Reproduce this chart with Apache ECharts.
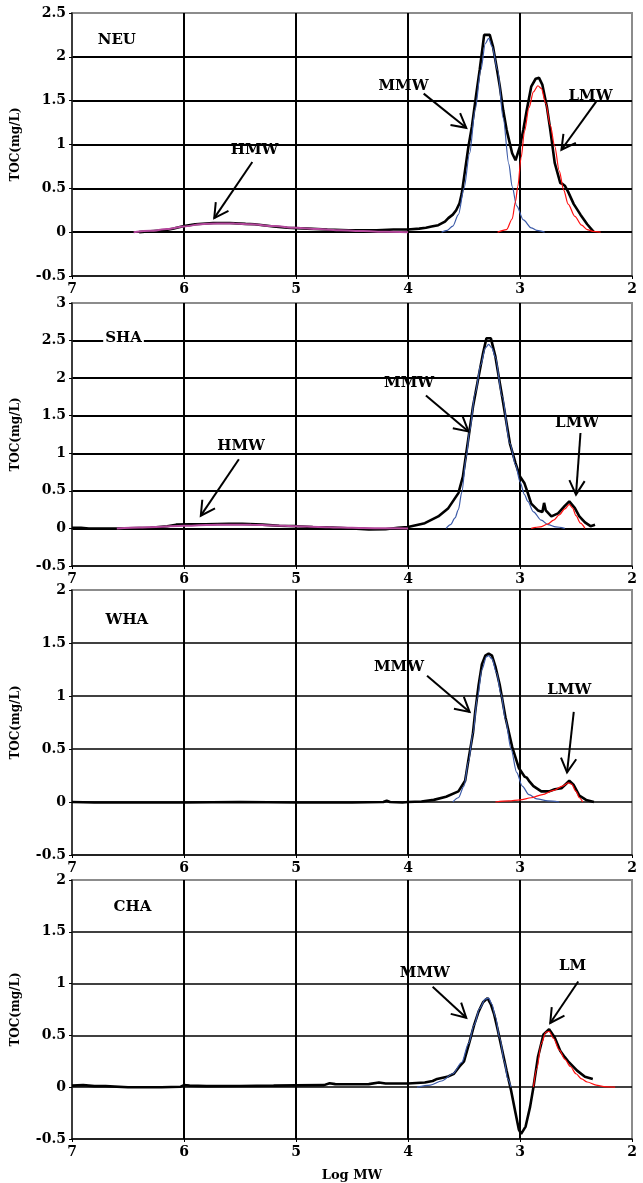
<!DOCTYPE html>
<html>
<head>
<meta charset="utf-8">
<script src="https://cdn.jsdelivr.net/npm/echarts@6/dist/echarts.min.js"></script>
<style>
html,body{margin:0;padding:0;background:#fff;}
#chart{width:643px;height:1183px;}
</style>
</head>
<body>
<div id="chart"></div>
<script>
// ---------- DATA (log MW, TOC mg/L) ----------
const X_TICKS = [7, 6, 5, 4, 3, 2];
const Y_MAX = [2.5, 3, 2, 2];
const PANEL_NAMES = ['NEU', 'SHA', 'WHA', 'CHA'];

const NEU_TOTAL = [[6.40,0.00],[6.30,0.01],[6.18,0.02],[6.10,0.04],[6.00,0.07],[5.90,0.09],[5.74,0.105],[5.59,0.105],[5.45,0.095],[5.37,0.09],[5.20,0.065],[5.08,0.05],[4.90,0.04],[4.72,0.03],[4.53,0.02],[4.28,0.02],[4.13,0.03],[4.00,0.03],[3.90,0.04],[3.84,0.05],[3.79,0.065],[3.73,0.08],[3.67,0.12],[3.64,0.16],[3.60,0.20],[3.57,0.25],[3.54,0.33],[3.52,0.44],[3.49,0.71],[3.46,0.98],[3.43,1.20],[3.39,1.58],[3.36,1.85],[3.33,2.15],[3.32,2.25],[3.27,2.25],[3.24,2.11],[3.21,1.89],[3.18,1.66],[3.15,1.39],[3.12,1.17],[3.07,0.90],[3.04,0.82],[3.00,0.98],[2.97,1.17],[2.94,1.39],[2.90,1.66],[2.86,1.75],[2.83,1.76],[2.80,1.68],[2.76,1.43],[2.73,1.17],[2.69,0.79],[2.64,0.56],[2.62,0.55],[2.60,0.53],[2.57,0.46],[2.52,0.32],[2.46,0.20],[2.40,0.09],[2.34,0.00]];
const NEU_MMW = [[3.70,0.00],[3.65,0.02],[3.60,0.07],[3.55,0.20],[3.50,0.50],[3.45,0.90],[3.40,1.40],[3.35,1.85],[3.31,2.15],[3.28,2.21],[3.25,2.12],[3.20,1.85],[3.15,1.30],[3.10,0.78],[3.07,0.52],[3.03,0.30],[2.97,0.14],[2.90,0.05],[2.85,0.02],[2.78,0.00]];
const NEU_LMW = [[3.20,0.00],[3.12,0.03],[3.07,0.15],[3.04,0.35],[3.02,0.52],[2.99,0.85],[2.96,1.15],[2.92,1.42],[2.88,1.60],[2.84,1.67],[2.81,1.64],[2.77,1.47],[2.73,1.22],[2.69,0.98],[2.65,0.70],[2.61,0.48],[2.57,0.32],[2.51,0.18],[2.45,0.08],[2.40,0.03],[2.35,0.01],[2.28,0.00]];
const NEU_HMW = [[6.45,0.00],[6.30,0.015],[6.15,0.035],[6.00,0.065],[5.85,0.09],[5.70,0.10],[5.55,0.098],[5.40,0.09],[5.20,0.07],[5.00,0.05],[4.80,0.035],[4.60,0.022],[4.40,0.012],[4.20,0.005],[4.00,0.00]];

const SHA_TOTAL = [[7.00,0.01],[6.92,0.01],[6.85,0.00],[6.60,0.00],[6.30,0.01],[6.15,0.03],[6.07,0.05],[5.95,0.055],[5.81,0.055],[5.60,0.06],[5.48,0.06],[5.30,0.05],[5.15,0.035],[5.00,0.03],[4.85,0.02],[4.72,0.015],[4.50,0.00],[4.35,-0.012],[4.20,-0.01],[4.09,0.01],[4.00,0.02],[3.85,0.07],[3.73,0.16],[3.64,0.27],[3.55,0.47],[3.51,0.69],[3.48,1.00],[3.45,1.31],[3.42,1.62],[3.37,2.02],[3.33,2.33],[3.30,2.53],[3.26,2.53],[3.22,2.29],[3.19,2.02],[3.16,1.76],[3.13,1.49],[3.09,1.13],[3.04,0.87],[3.00,0.69],[2.96,0.60],[2.93,0.47],[2.90,0.33],[2.84,0.24],[2.80,0.22],[2.785,0.34],[2.77,0.24],[2.72,0.16],[2.66,0.20],[2.60,0.30],[2.56,0.36],[2.51,0.27],[2.47,0.16],[2.42,0.08],[2.37,0.03],[2.35,0.04],[2.33,0.05]];
const SHA_MMW = [[3.66,0.00],[3.62,0.05],[3.58,0.14],[3.55,0.25],[3.52,0.48],[3.48,0.95],[3.45,1.30],[3.40,1.80],[3.35,2.18],[3.31,2.40],[3.28,2.45],[3.25,2.40],[3.22,2.28],[3.16,1.76],[3.09,1.13],[3.04,0.85],[3.00,0.62],[2.96,0.45],[2.93,0.36],[2.88,0.22],[2.81,0.11],[2.75,0.05],[2.68,0.02],[2.60,0.00]];
const SHA_LMW = [[2.90,0.00],[2.82,0.02],[2.75,0.06],[2.70,0.11],[2.65,0.18],[2.60,0.26],[2.56,0.32],[2.53,0.27],[2.50,0.17],[2.46,0.07],[2.42,0.00]];
const SHA_HMW = [[6.60,0.00],[6.40,0.012],[6.25,0.02],[6.00,0.035],[5.80,0.045],[5.60,0.05],[5.40,0.048],[5.20,0.04],[5.00,0.03],[4.80,0.02],[4.60,0.012],[4.40,0.006],[4.20,0.002],[4.00,0.00]];

const WHA_TOTAL = [[7.00,0.00],[6.80,-0.005],[6.50,-0.005],[6.00,-0.005],[5.50,0.00],[5.00,-0.005],[4.50,-0.005],[4.22,0.00],[4.19,0.012],[4.16,0.00],[4.05,-0.005],[4.00,0.00],[3.88,0.005],[3.77,0.02],[3.66,0.05],[3.55,0.10],[3.49,0.20],[3.46,0.40],[3.42,0.65],[3.40,0.85],[3.37,1.10],[3.34,1.30],[3.31,1.38],[3.28,1.40],[3.25,1.38],[3.22,1.28],[3.18,1.10],[3.13,0.80],[3.07,0.52],[3.01,0.32],[2.96,0.24],[2.94,0.23],[2.92,0.20],[2.88,0.15],[2.81,0.10],[2.74,0.10],[2.69,0.12],[2.63,0.13],[2.59,0.17],[2.56,0.20],[2.52,0.16],[2.47,0.06],[2.41,0.02],[2.34,0.00]];
const WHA_MMW = [[3.60,0.00],[3.55,0.04],[3.50,0.15],[3.46,0.38],[3.42,0.65],[3.38,0.98],[3.34,1.25],[3.30,1.37],[3.28,1.38],[3.25,1.35],[3.21,1.22],[3.17,1.02],[3.13,0.78],[3.08,0.50],[3.03,0.28],[2.98,0.15],[2.92,0.07],[2.85,0.03],[2.75,0.01],[2.65,0.00]];
const WHA_LMW = [[3.22,0.00],[3.10,0.01],[3.00,0.02],[2.90,0.04],[2.80,0.07],[2.70,0.11],[2.62,0.15],[2.57,0.18],[2.54,0.17],[2.50,0.10],[2.47,0.04],[2.44,0.00]];

const CHA_TOTAL = [[7.00,0.015],[6.90,0.02],[6.80,0.01],[6.70,0.01],[6.50,0.00],[6.20,0.00],[6.03,0.005],[6.00,0.02],[5.95,0.015],[5.80,0.01],[5.50,0.012],[5.20,0.015],[5.00,0.018],[4.75,0.02],[4.70,0.038],[4.65,0.03],[4.50,0.028],[4.35,0.03],[4.26,0.045],[4.20,0.035],[4.00,0.035],[3.85,0.045],[3.78,0.06],[3.74,0.08],[3.65,0.10],[3.59,0.13],[3.54,0.20],[3.50,0.25],[3.45,0.44],[3.41,0.60],[3.37,0.73],[3.33,0.82],[3.29,0.86],[3.26,0.80],[3.23,0.70],[3.20,0.56],[3.17,0.41],[3.12,0.16],[3.08,-0.03],[3.04,-0.25],[3.01,-0.41],[2.99,-0.45],[2.95,-0.38],[2.91,-0.19],[2.88,0.00],[2.84,0.29],[2.79,0.51],[2.74,0.56],[2.69,0.48],[2.64,0.35],[2.60,0.29],[2.57,0.25],[2.49,0.16],[2.42,0.10],[2.35,0.08]];
const CHA_MMW = [[3.92,0.00],[3.80,0.02],[3.70,0.06],[3.60,0.13],[3.52,0.24],[3.46,0.42],[3.41,0.60],[3.36,0.76],[3.31,0.85],[3.28,0.86],[3.25,0.80],[3.22,0.68],[3.18,0.47],[3.14,0.25],[3.11,0.08],[3.08,0.00]];
const CHA_LMW = [[2.88,0.00],[2.85,0.18],[2.81,0.42],[2.77,0.53],[2.74,0.54],[2.70,0.47],[2.65,0.36],[2.60,0.27],[2.55,0.20],[2.50,0.13],[2.45,0.08],[2.40,0.05],[2.32,0.02],[2.25,0.005],[2.15,0.00]];

// annotation texts: [text, logMW, TOC]
const NEU_NOTES = [['NEU',6.60,2.19],['MMW',4.04,1.67],['LMW',2.37,1.55],['HMW',5.37,0.94]];
const SHA_NOTES = [['SHA',6.54,2.53],['MMW',3.99,1.94],['LMW',2.49,1.40],['HMW',5.49,1.09]];
const WHA_NOTES = [['WHA',6.51,1.72],['MMW',4.08,1.27],['LMW',2.56,1.06]];
const CHA_NOTES = [['CHA',6.46,1.74],['MMW',3.85,1.10],['LM',2.53,1.17]];
// arrows: [fromLogMW, fromTOC, toLogMW, toTOC]
const NEU_ARROWS = [[3.86,1.58,3.48,1.19],[2.32,1.49,2.63,0.94],[5.39,0.80,5.73,0.16]];
const SHA_ARROWS = [[3.84,1.77,3.46,1.29],[2.46,1.27,2.50,0.45],[5.51,0.92,5.85,0.17]];
const WHA_ARROWS = [[3.83,1.19,3.45,0.85],[2.52,0.85,2.58,0.28]];
const CHA_ARROWS = [[3.78,0.97,3.48,0.67],[2.48,1.02,2.73,0.62]];

// ---------- LAYOUT ----------
const PANELS = [
  {total: NEU_TOTAL, mmw: NEU_MMW, lmw: NEU_LMW, hmw: NEU_HMW, notes: NEU_NOTES, arrows: NEU_ARROWS},
  {total: SHA_TOTAL, mmw: SHA_MMW, lmw: SHA_LMW, hmw: SHA_HMW, notes: SHA_NOTES, arrows: SHA_ARROWS},
  {total: WHA_TOTAL, mmw: WHA_MMW, lmw: WHA_LMW, hmw: null, notes: WHA_NOTES, arrows: WHA_ARROWS},
  {total: CHA_TOTAL, mmw: CHA_MMW, lmw: CHA_LMW, hmw: null, notes: CHA_NOTES, arrows: CHA_ARROWS}
];
const TOPS = [13, 303, 590, 880];
const HEIGHTS = [263, 263, 265, 262];
const FONT = '"DejaVu Serif", "Liberation Serif", serif';

const grids = [], xAxes = [], yAxes = [], series = [];
PANELS.forEach((p, i) => {
  grids.push({left: 72, width: 560, top: TOPS[i], height: HEIGHTS[i], show: true,
    borderColor: '#8c8c8c', borderWidth: 2, backgroundColor: '#fff'});
  xAxes.push({
    gridIndex: i, type: 'value', min: 2, max: 7, interval: 1, inverse: true,
    name: i === 3 ? 'Log MW' : '', nameLocation: 'middle', nameGap: 30,
    nameTextStyle: {fontFamily: FONT, fontWeight: 'bold', fontSize: 13, color: '#000'},
    axisLine: {onZero: false, lineStyle: {color: '#000', width: 1.5}},
    axisTick: {show: true, length: 3, lineStyle: {color: '#000'}},
    axisLabel: {fontFamily: FONT, fontWeight: 'bold', fontSize: 14, color: '#000', margin: 6},
    splitLine: {show: true, showMinLine: false, showMaxLine: false, lineStyle: {color: '#000', width: 2}}
  });
  yAxes.push({
    gridIndex: i, type: 'value', min: -0.5, max: Y_MAX[i], interval: 0.5,
    name: 'TOC(mg/L)', nameLocation: 'middle', nameGap: 50, nameRotate: 90,
    nameTextStyle: {fontFamily: FONT, fontWeight: 'bold', fontSize: 12, color: '#000'},
    axisLine: {show: true, onZero: false, lineStyle: {color: '#222', width: 1.5}},
    axisTick: {show: true, length: 3, lineStyle: {color: '#000'}},
    axisLabel: {fontFamily: FONT, fontWeight: 'bold', fontSize: 14, color: '#000', margin: 6},
    splitLine: {show: true, showMinLine: false, showMaxLine: false,
      lineStyle: {color: '#000', width: i >= 2 ? 1.5 : 2}}
  });
  const base = {xAxisIndex: i, yAxisIndex: i, type: 'line', showSymbol: false, symbol: 'none', animation: false};
  series.push(Object.assign({}, base, {name: PANEL_NAMES[i] + ' total', data: p.total, z: 3,
    lineStyle: {color: '#000', width: 2.6}}));
  if (p.hmw) series.push(Object.assign({}, base, {name: 'HMW', data: p.hmw, z: 4, smooth: 0.3, smoothMonotone: 'x',
    lineStyle: {color: '#b4489c', width: 2}}));
  series.push(Object.assign({}, base, {name: 'MMW', data: p.mmw, z: 4, smooth: 0.3, smoothMonotone: 'x',
    lineStyle: {color: '#3b5aa8', width: 1.2}}));
  series.push(Object.assign({}, base, {name: 'LMW', data: p.lmw, z: 4, smooth: 0.3, smoothMonotone: 'x',
    lineStyle: {color: '#ff1010', width: 1.2}}));
  // arrows
  series.push({
    type: 'custom', xAxisIndex: i, yAxisIndex: i, z: 6, animation: false,
    encode: {x: [0, 2], y: [1, 3]},
    data: p.arrows,
    renderItem: function (params, api) {
      const a = api.coord([api.value(0), api.value(1)]);
      const b = api.coord([api.value(2), api.value(3)]);
      const ang = Math.atan2(b[1] - a[1], b[0] - a[0]);
      const L = 16, s = 0.5;
      const h1 = [b[0] - L * Math.cos(ang - s), b[1] - L * Math.sin(ang - s)];
      const h2 = [b[0] - L * Math.cos(ang + s), b[1] - L * Math.sin(ang + s)];
      return {type: 'group', children: [
        {type: 'line', shape: {x1: a[0], y1: a[1], x2: b[0], y2: b[1]}, style: {stroke: '#000', lineWidth: 2}},
        {type: 'polyline', shape: {points: [h1, b, h2]}, style: {stroke: '#000', lineWidth: 2, fill: null}}
      ]};
    }
  });
  // text notes (first note is the panel name, drawn on a white box)
  const notes = p.notes;
  series.push({
    type: 'custom', xAxisIndex: i, yAxisIndex: i, z: 7, animation: false,
    encode: {x: 0, y: 1},
    data: notes.map(n => [n[1], n[2]]),
    renderItem: function (params, api) {
      const c = api.coord([api.value(0), api.value(1)]);
      const style = {
        text: notes[params.dataIndex][0], font: 'bold 15px ' + FONT, fill: '#000',
        align: 'center', verticalAlign: 'middle'};
      if (params.dataIndex === 0) { style.backgroundColor = '#fff'; style.padding = [1, 2]; }
      return {type: 'text', x: c[0], y: c[1], style: style};
    }
  });
});

const chart = echarts.init(document.getElementById('chart'), null, {renderer: 'canvas'});
chart.setOption({
  animation: false,
  backgroundColor: '#fff',
  grid: grids, xAxis: xAxes, yAxis: yAxes, series: series
});
</script>
</body>
</html>
